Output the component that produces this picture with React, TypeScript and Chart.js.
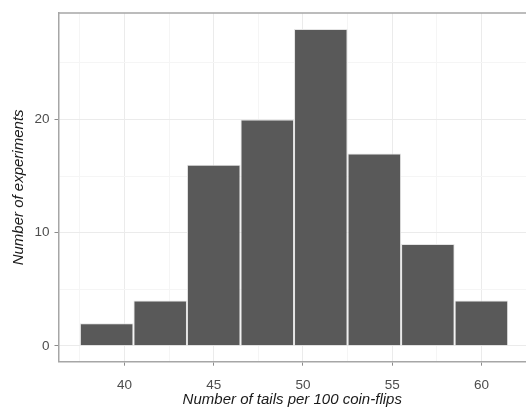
import React, { useEffect, useRef } from "react";
import { Chart, registerables } from "chart.js";

Chart.register(...registerables);

const binCenters = [39, 42, 45, 48, 51, 54, 57, 60];
const counts = [2, 4, 16, 20, 28, 17, 9, 4];
const xMajorTicks = [40, 45, 50, 55, 60];
const xMinorTicks = [37.5, 42.5, 47.5, 52.5, 57.5];
const yMajorTicks = [0, 10, 20];
const yMinorTicks = [5, 15, 25];
const xTitle = "Number of tails per 100 coin-flips";
const yTitle = "Number of experiments";

const FONT = "'Liberation Sans', Arial, sans-serif";

const topBorder = {
  id: "topBorder",
  afterDraw(chart: any) {
    const { ctx, chartArea } = chart;
    ctx.save();
    ctx.strokeStyle = "#a6a6a6";
    ctx.lineWidth = 1.5;
    ctx.beginPath();
    ctx.moveTo(chartArea.left, chartArea.top);
    ctx.lineTo(chartArea.right, chartArea.top);
    ctx.stroke();
    ctx.restore();
  },
};

export default function App() {
  const ref = useRef<HTMLCanvasElement | null>(null);
  useEffect(() => {
    if (!ref.current) return;
    const isMajorX = (v: number) => xMajorTicks.includes(v);
    const isMajorY = (v: number) => yMajorTicks.includes(v);
    // bin width (3) relative to the smallest tick spacing (2.5) used by Chart.js for bar sizing
    const binWidth = binCenters[1] - binCenters[0];
    const tickStep = xMinorTicks[0] < xMajorTicks[0] ? xMajorTicks[0] - xMinorTicks[0] : 2.5;
    const chart = new Chart(ref.current, {
      type: "bar",
      data: {
        datasets: [
          {
            data: binCenters.map((x, i) => ({ x, y: counts[i] })),
            backgroundColor: "#595959",
            borderColor: "#e4e4e4",
            borderWidth: 1,
            barPercentage: binWidth / tickStep,
            categoryPercentage: 1,
          } as any,
        ],
      },
      options: {
        animation: false,
        responsive: true,
        maintainAspectRatio: false,
        layout: { padding: { top: 7, left: 0, right: 0, bottom: 0 } },
        plugins: {
          legend: { display: false },
          tooltip: { enabled: false },
        },
        scales: {
          x: {
            type: "linear",
            min: 36.3,
            max: 62.5,
            offset: false,
            afterBuildTicks: (scale: any) => {
              scale.ticks = [...xMinorTicks, ...xMajorTicks]
                .sort((a, b) => a - b)
                .map((v) => ({ value: v }));
            },
            afterFit: (scale: any) => {
              scale.height = 48.3;
            },
            grid: {
              offset: false,
              color: (c: any) => (c.tick && isMajorX(c.tick.value) ? "#ebebeb" : "#f5f5f5"),
              lineWidth: 1,
              tickLength: 4,
              tickColor: (c: any) => (c.tick && isMajorX(c.tick.value) ? "#8c8c8c" : "rgba(0,0,0,0)"),
            },
            border: { display: true, color: "#a6a6a6", width: 1.5 },
            ticks: {
              autoSkip: false,
              maxRotation: 0,
              padding: 11,
              color: "#4d4d4d",
              font: { family: FONT, size: 13.5 },
              callback: (v: any) => (isMajorX(Number(v)) ? String(v) : ""),
            },
            title: {
              display: true,
              text: xTitle,
              color: "#1a1a1a",
              font: { family: FONT, size: 15, style: "italic" },
              padding: { top: 0, bottom: 1 },
            },
          },
          y: {
            type: "linear",
            min: -1.4,
            max: 29.4,
            afterBuildTicks: (scale: any) => {
              scale.ticks = [...yMinorTicks, ...yMajorTicks]
                .sort((a, b) => a - b)
                .map((v) => ({ value: v }));
            },
            afterFit: (scale: any) => {
              scale.width = 58.5;
            },
            grid: {
              color: (c: any) => (c.tick && isMajorY(c.tick.value) ? "#ebebeb" : "#f5f5f5"),
              lineWidth: 1,
              tickLength: 4,
              tickColor: (c: any) => (c.tick && isMajorY(c.tick.value) ? "#8c8c8c" : "rgba(0,0,0,0)"),
            },
            border: { display: true, color: "#a6a6a6", width: 1.5 },
            ticks: {
              autoSkip: false,
              padding: 5,
              color: "#4d4d4d",
              font: { family: FONT, size: 13.5 },
              callback: (v: any) => (isMajorY(Number(v)) ? String(v) : ""),
            },
            title: {
              display: true,
              text: yTitle,
              color: "#1a1a1a",
              font: { family: FONT, size: 15, style: "italic" },
              padding: { top: 10, bottom: 0 },
            },
          },
        },
      },
      plugins: [topBorder],
    });
    return () => chart.destroy();
  }, []);
  return (
    <div style={{ position: "absolute", left: 0, top: 0, width: 526, height: 410 }}>
      <canvas ref={ref} />
    </div>
  );
}
